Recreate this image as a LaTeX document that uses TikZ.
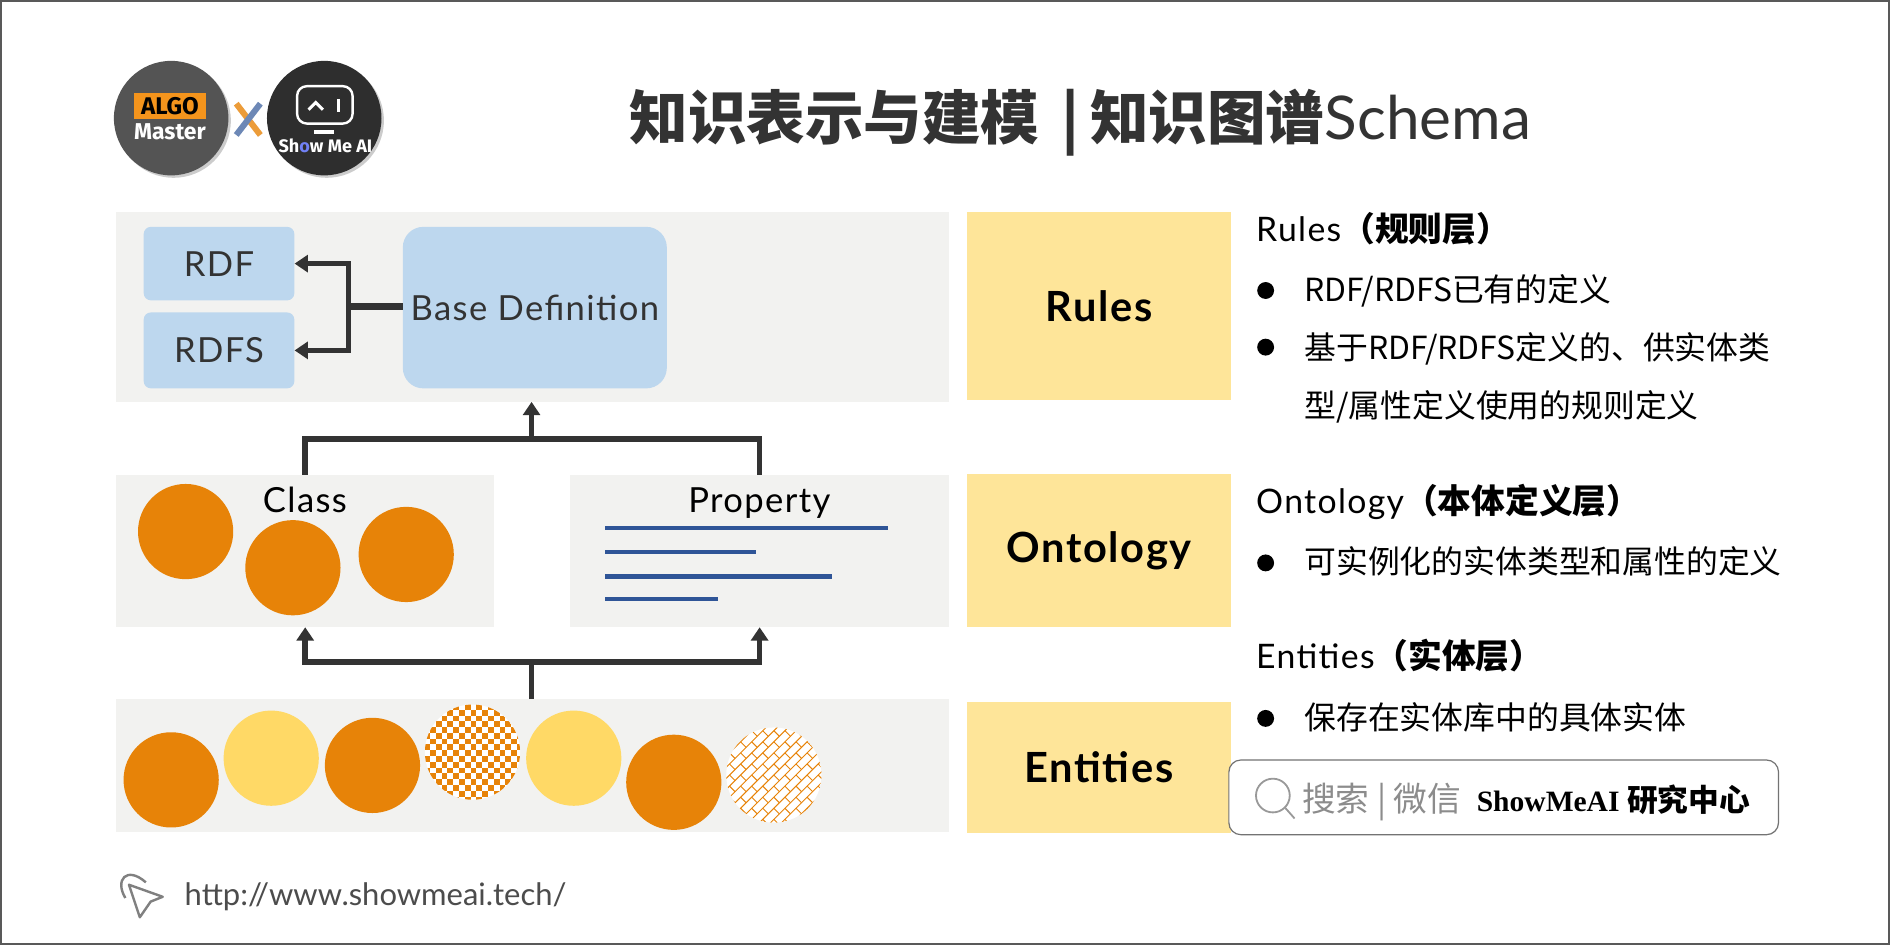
\documentclass[tikz,border=0pt]{standalone}
\usepackage{fontspec}
\usepackage{tikz}
\usetikzlibrary{arrows.meta, positioning, shadows, calc}

\setmainfont{Lato}
\newfontfamily\widefont[LetterSpace=4]{Lato}
\newfontfamily\cjk{Noto Sans CJK SC}
\newfontfamily\logofont{Fira Sans}
\newfontfamily\boldserif{Liberation Serif}

\definecolor{panelgray}{HTML}{F2F2F0}
\definecolor{boxblue}{HTML}{BDD7EE}
\definecolor{tagyellow}{HTML}{FEE599}
\definecolor{dotorange}{HTML}{E78308}
\definecolor{dotyellow}{HTML}{FFD966}
\definecolor{lineblue}{HTML}{2F5597}
\definecolor{inkdark}{HTML}{333333}
\definecolor{algoorange}{HTML}{F4941C}

\newcommand{\fsz}[1]{\fontsize{#1}{#1}\selectfont}

\begin{document}
\begin{tikzpicture}[
        x = 1pt, y = -1pt,
        >= {Triangle[length = 11pt, width = 14pt]},
        panel/.style = {fill = panelgray, anchor = north west, inner sep = 0pt},
        tag/.style = {fill = tagyellow, anchor = north west, inner sep = 0pt, font = \widefont\fsz{34.5}\bfseries, text = black},
        bluebox/.style = {fill = boxblue, anchor = north west, inner sep = 0pt, rounded corners = 6pt, font = \widefont\fsz{28.7}, text = inkdark},
        dot/.style = {circle, minimum size = 79pt, inner sep = 0pt},
        orangedot/.style = {dot, fill = dotorange},
        yellowdot/.style = {dot, fill = dotyellow},
        link/.style = {draw = inkdark, line width = 4.6pt},
        head/.style = {anchor = base west, inner sep = 0pt, font = \widefont\fsz{28}, text = black},
        body/.style = {anchor = base west, inner sep = 0pt, font = \fsz{26.4}\cjk, text = black},
        bullet/.style = {circle, fill = black, minimum size = 14pt, inner sep = 0pt},
        logo/.style = {circle, minimum size = 95pt, inner sep = 0pt, drop shadow = {shadow xshift = 2pt, shadow yshift = -2pt, opacity = 0.4}}
    ]

    \useasboundingbox (0,0) rectangle (1568,784);
    \fill[white] (0,0) rectangle (1568,784);
    \draw[draw = black!65, line width = 2pt] (1,1) rectangle (1567,783);

    % logos
    \node[logo, fill = black!67] (algo) at (142,98) {};
    \node[fill = algoorange, minimum width = 59pt, minimum height = 22pt, inner sep = 0pt, font = \logofont\fsz{20}\bfseries] (algotag) at (141,88) {ALGO};
    \node[text = white, inner sep = 0pt, font = \logofont\fsz{19}\bfseries] (master) [below = 3pt of algotag] {Master};
    \node[logo, fill = black!82] (show) at (269,98) {};
    \node[draw = white, line width = 2pt, rounded corners = 8pt, minimum width = 46pt, minimum height = 31pt, inner sep = 0pt] (screen) at (269.5,87) {};
    \draw[white, line width = 2.5pt] (256,91) -- (262,85) -- (268,91);
    \draw[white, line width = 2.5pt] (280.5,82) -- (280.5,93);
    \node[fill = white, minimum width = 17pt, minimum height = 3pt, inner sep = 0pt] (stand) at (269,109.5) {};
    \node[text = white, inner sep = 0pt, font = \logofont\fsz{15}\bfseries] (showtext) at (270,121) {Sh{\color{boxblue!60!blue}o}w Me AI};
    \draw[dotorange!80!white, line width = 5pt] (196,86) -- (216,112);
    \draw[lineblue!70!white, line width = 5pt] (216,86) -- (196,112);

    % title
    \node[anchor = base west, inner sep = 0pt, text = inkdark, font = \fsz{48.6}] (title) at (522,116) {{\cjk\bfseries 知识表示与建模\hspace{18pt}|\hspace{9pt}知识图谱}{\fsz{50}Schema}};

    % left panels
    \node[panel, minimum width = 691pt, minimum height = 157pt] (rulespanel) at (96,176) {};
    \node[panel, minimum width = 314pt, minimum height = 126pt] (classpanel) at (96,394) {};
    \node[panel, minimum width = 314pt, minimum height = 126pt] (proppanel) at (473,394) {};
    \node[panel, minimum width = 691pt, minimum height = 110pt] (entpanel) at (96,580) {};

    % right tags
    \node[tag, minimum width = 219pt, minimum height = 156pt] (rulestag) at (802,176) {Rules};
    \node[tag, minimum width = 219pt, minimum height = 127pt] (ontotag) at (802,393) {Ontology};
    \node[tag, minimum width = 219pt, minimum height = 109pt] (enttag) at (802,582) {Entities};

    % rules layer
    \node[bluebox, minimum width = 125pt, minimum height = 61pt] (rdf) at (119,188) {RDF};
    \node[bluebox, minimum width = 125pt, minimum height = 63pt] (rdfs) at (119,259) {RDFS};
    \node[bluebox, rounded corners = 17pt, minimum width = 219pt, minimum height = 134pt] (base) at (334,188) {Base Definition};
    \coordinate (split) at (289,254.5);

    \draw[link, line width = 5.5pt] (base.west |- split) -- (split);
    \draw[link, ->] (split) |- (rdf.east);
    \draw[link, ->] (split) |- (rdfs.east);

    % ontology layer
    \node[anchor = base, inner sep = 0pt, font = \widefont\fsz{28.7}, text = black] (classlabel) at (253,425) {Class};
    \node[anchor = base, inner sep = 0pt, font = \widefont\fsz{28.7}, text = black] (proplabel) at (630,425) {Property};
    \node[orangedot] (c1) at (154,441) {};
    \node[orangedot] (c2) at (243,471) {};
    \node[orangedot] (c3) at (337,460) {};
    \foreach \ypos/\xend in {438/737, 458/627, 478/690, 497/596}
        \draw[lineblue, line width = 4pt] (502,\ypos) -- (\xend,\ypos);

    \coordinate (upjoin) at (441,364);
    \coordinate (downjoin) at (441,549);
    \draw[link] (classpanel.north) |- (upjoin) -| (proppanel.north);
    \draw[link, ->] (upjoin) -- (rulespanel.south -| upjoin);
    \draw[link] (entpanel.north -| downjoin) -- (downjoin);
    \draw[link, ->] (downjoin) -| (classpanel.south);
    \draw[link, ->] (downjoin) -| (proppanel.south);

    % entities layer
    \node[orangedot] (e1) at (142,647) {};
    \node[yellowdot] (e2) at (225,629) {};
    \node[orangedot] (e3) at (309,635) {};
    \node[yellowdot] (e5) at (476,629) {};
    \node[orangedot] (e6) at (559,649) {};

    \node[dot, fill = white] (e4) at (392,624) {};
    \begin{scope}
        \clip (392,624) circle (39.5);
        \foreach \i in {0,...,16} \foreach \j in {0,...,16} {
            \ifodd\numexpr\i+\j\relax
                \fill[dotorange] (352+\i*4.8,584+\j*4.8) rectangle ++(4.8,4.8);
            \fi
        }
    \end{scope}

    \node[dot, fill = white] (e7) at (642,643) {};
    \begin{scope}
        \clip (642,643) circle (39.5);
        \begin{scope}[shift = {(642,643)}, x = {(0.707pt,0.707pt)}, y = {(0.707pt,-0.707pt)}]
            \foreach \k in {-7,...,7} {
                \draw[dotorange, line width = 0.8pt] (-45,\k*6.5) -- (45,\k*6.5);
                \foreach \m in {-4,...,4}
                    \draw[dotorange, line width = 0.8pt] (\m*13+\k*6.5,\k*6.5) -- ++(0,6.5);
            }
        \end{scope}
    \end{scope}

    % explanations
    \node[head] (h1) at (1042,200) {Rules{\cjk\fsz{28}\bfseries（规则层）}};
    \node[bullet] (b1) at (1050,241) {};
    \node[body] (t1) at (1082,250) {RDF/RDFS已有的定义};
    \node[bullet] (b2) at (1050,288) {};
    \node[body] (t2) at (1082,298) {基于RDF/RDFS定义的、供实体类};
    \node[body] (t3) at (1082,346) {型/属性定义使用的规则定义};
    \node[head] (h2) at (1042,426) {Ontology{\cjk\fsz{28}\bfseries（本体定义层）}};
    \node[bullet] (b3) at (1050,467) {};
    \node[body] (t4) at (1082,476) {可实例化的实体类型和属性的定义};
    \node[head] (h3) at (1042,555) {Entities{\cjk\fsz{28}\bfseries（实体层）}};
    \node[bullet] (b4) at (1050,596) {};
    \node[body] (t5) at (1082,605) {保存在实体库中的具体实体};

    % search box
    \node[draw = black!55, line width = 1pt, fill = white, rounded corners = 10pt, anchor = north west, inner sep = 0pt, minimum width = 456pt, minimum height = 62pt] (search) at (1019,630) {};
    \node[circle, draw = black!40, line width = 1.5pt, minimum size = 28pt, inner sep = 0pt] (lens) at (1056,660) {};
    \coordinate (lensend) at (1074,679);
    \draw[draw = black!40, line width = 1.5pt] (lens.south east) -- (lensend);
    \node[anchor = base west, inner sep = 0pt, text = black!45, font = \cjk\fsz{28}] (wechat) at (1080,673) {搜索 | 微信};
    \node[anchor = base west, inner sep = 0pt, text = black, font = \fsz{24.5}] (brand) at (1225,673) {{\boldserif\bfseries ShowMeAI} {\cjk\fsz{25.5}\bfseries 研究中心}};

    % footer
    \draw[draw = black!50, line width = 2pt, line join = round] (107,734) -- (135,744) -- (125,748) -- (116,761) -- cycle;
    \draw[draw = black!50, line width = 2pt] (104,745) .. controls (95,730) and (105,718) .. (121,732);
    \node[anchor = base west, inner sep = 0pt, text = black!70, font = \fsz{25.7}] (url) at (153,751) {http://www.showmeai.tech/};

\end{tikzpicture}
\end{document}
